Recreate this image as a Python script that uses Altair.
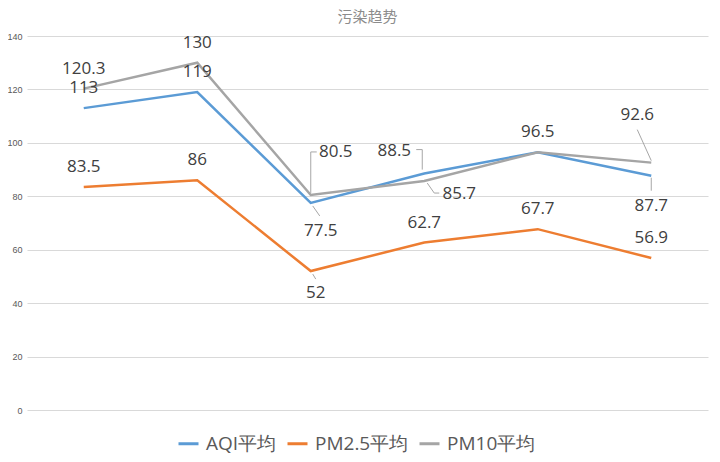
import altair as alt
import pandas as pd

categories = ["1", "2", "3", "4", "5", "6"]
series = ["AQI平均", "PM2.5平均", "PM10平均"]
aqi = [113, 119, 77.5, 88.5, 96.5, 87.7]
pm25 = [83.5, 86, 52, 62.7, 67.7, 56.9]
pm10 = [120.3, 130, 80.5, 85.7, 96.5, 92.6]
y_ticks = [0, 20, 40, 60, 80, 100, 120, 140]
colors = ["#5B9BD5", "#ED7D31", "#A5A5A5"]

rows = []
for name, vals in zip(series, [aqi, pm25, pm10]):
    for i, (c, v) in enumerate(zip(categories, vals)):
        rows.append({"cat": c, "series": name, "value": v, "idx": i})
df = pd.DataFrame(rows)

X = alt.X("cat:O", scale=alt.Scale(type="point", padding=0.5, domain=categories), axis=None)
Y = alt.Y("value:Q", scale=alt.Scale(domain=[0, 140]),
          axis=alt.Axis(values=y_ticks, title=None, grid=True, gridColor="#D9D9D9",
                        domain=False, ticks=False, labelFontSize=9, labelColor="#595959",
                        labelPadding=5, labelFont="Liberation Sans"))

base = alt.Chart(df).encode(x=X, y=Y)

lines = base.mark_line(strokeWidth=2.5).encode(
    color=alt.Color("series:N", scale=alt.Scale(domain=series, range=colors),
                    legend=alt.Legend(title=None, orient="none", legendX=150, legendY=396,
                                      direction="horizontal", symbolType="stroke",
                                      symbolSize=400, symbolStrokeWidth=3,
                                      labelFontSize=19, labelColor="#595959",
                                      labelFont="Open Sans", columnPadding=4,
                                      labelOffset=6, padding=0))
)


def sel(pairs):
    return " || ".join(f"(datum.series == '{s}' && datum.idx == {i})" for s, i in pairs)


def text_layer(pairs, dx, dy):
    return base.transform_filter(sel(pairs)).mark_text(
        dx=dx, dy=dy, fontSize=17, font="Open Sans", color="#404040",
        align="center", baseline="middle"
    ).encode(text=alt.Text("value:Q"))


def leader(pairs, xo, yo, x2o, y2o):
    return alt.Chart(df).transform_filter(sel(pairs)).mark_rule(
        color="#A6A6A6", strokeWidth=1, xOffset=xo, yOffset=yo, x2Offset=x2o, y2Offset=y2o
    ).encode(x=X, y=Y, x2="cat:O", y2="value:Q")


A, P, T = series
labels = [
    text_layer([(A, 0), (A, 1), (A, 4), (P, 0), (P, 1), (P, 3), (P, 4), (P, 5), (T, 0), (T, 1)], 0, -20),
    text_layer([(A, 2)], 10, 28),
    text_layer([(P, 2)], 5, 22),
    text_layer([(A, 3)], -30, -23),
    text_layer([(A, 5)], 0, 30),
    text_layer([(T, 2)], 25, -43),
    text_layer([(T, 3)], 35, 13),
    text_layer([(T, 5)], -14, -48),
]

leaders = [
    leader([(T, 2)], 0, -2, 0, -43),
    leader([(T, 2)], 0, -43, 6, -43),
    leader([(A, 2)], 2, 3, 9, 13),
    leader([(P, 2)], 2, 3, 5, 8),
    leader([(A, 3)], -2, -4, -2, -24),
    leader([(A, 3)], -2, -24, -8, -24),
    leader([(T, 3)], 3, 2, 10, 12),
    leader([(T, 3)], 10, 12, 15, 12),
    leader([(T, 5)], 0, -2, -14, -33),
    leader([(A, 5)], 0, 2, 0, 15),
]

chart = alt.layer(lines, *leaders, *labels).properties(
    width=681, height=374,
    title=alt.TitleParams("污染趋势", fontSize=15, color="#8C8C8C", font="Noto Sans CJK SC",
                          fontWeight="normal", anchor="middle", offset=7),
    autosize=alt.AutoSizeParams(type="none"),
    padding={"left": 19, "top": 28, "right": 4, "bottom": 46},
).configure_view(stroke=None)

chart.save("out.html", embed_options={"renderer": "svg", "actions": False})
